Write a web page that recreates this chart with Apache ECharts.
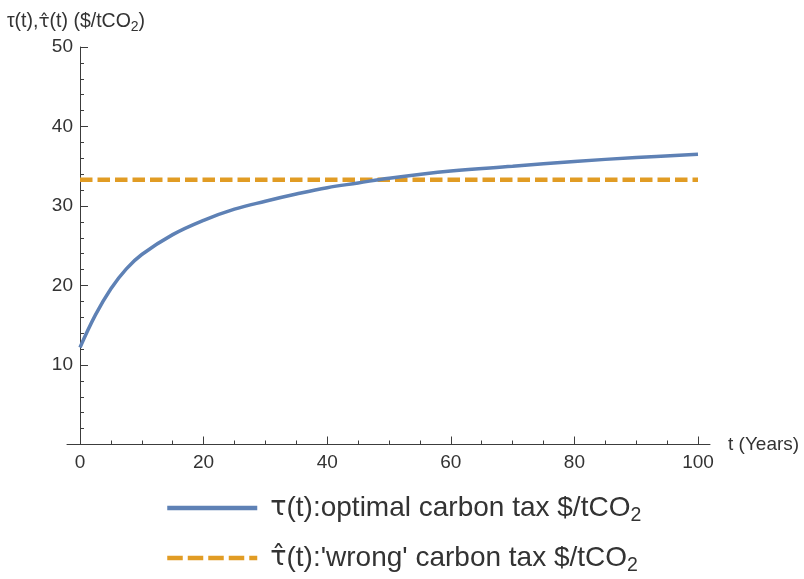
<!DOCTYPE html>
<html>
<head>
<meta charset="utf-8">
<script src="https://cdn.jsdelivr.net/npm/echarts@6/dist/echarts.min.js"></script>
<style>
html,body{margin:0;padding:0;background:#fff;}
#chart{width:804px;height:579px;}
</style>
</head>
<body>
<div id="chart"></div>
<script>
// Data
var years = [0, 2.5, 5, 7.5, 10, 15, 20, 25, 30, 35, 40, 45, 50, 60, 70, 80, 90, 100];
var optimalTax = [12.2, 16.3, 19.6, 22.1, 23.9, 26.4, 28.2, 29.6, 30.6, 31.5, 32.3, 32.9, 33.5, 34.4, 35.0, 35.6, 36.1, 36.5];
var wrongYears = [0, 100];
var wrongTax = [33.3, 33.3];
var xTicks = [0, 20, 40, 60, 80, 100];
var yTicks = [10, 20, 30, 40, 50];

var seriesNames = ["optimal", "wrong"];
var legendLabels = {
  optimal: '{h|τ}{n|(t):optimal carbon tax $/tCO}{s|2}',
  wrong: '{h|τ̂}{n|(t):\'wrong\' carbon tax $/tCO}{s|2}'
};

function pairs(xs, ys) { return xs.map(function (x, i) { return [x, ys[i]]; }); }

var FONT = "'Liberation Sans', Arial, sans-serif";
var HAT_FONT = "'DejaVu Sans', 'Noto Sans', sans-serif";
var AXIS_COLOR = '#3c3c3c';
var TEXT_COLOR = '#333333';

function makeLegend(name, top, lineType) {
  return {
    orient: 'vertical',
    left: 160,
    top: top,
    itemWidth: 90,
    itemHeight: 14,
    data: [name],
    itemStyle: { opacity: 0 },
    lineStyle: { width: 4.5, type: lineType },
    formatter: function (n) { return legendLabels[n]; },
    textStyle: {
      color: TEXT_COLOR,
      fontFamily: FONT,
      fontSize: 28,
      rich: {
        h: { fontSize: 27, fontFamily: HAT_FONT, color: TEXT_COLOR, padding: [0, 0, 0, 8] },
        n: { fontSize: 28, fontFamily: FONT, color: TEXT_COLOR },
        s: { fontSize: 19.5, fontFamily: FONT, color: TEXT_COLOR, padding: [15, 0, 0, 0] }
      }
    }
  };
}

var chart = echarts.init(document.getElementById('chart'), null, { renderer: 'canvas' });
chart.setOption({
  animation: false,
  backgroundColor: '#ffffff',
  textStyle: { fontFamily: FONT },
  grid: [
    { left: 80, right: 106, top: 47, bottom: 134.5, containLabel: false },
    { left: 67, right: 94, top: 47, bottom: 134.5, containLabel: false }
  ],
  legend: [
    makeLegend(seriesNames[0], 489, 'solid'),
    makeLegend(seriesNames[1], 539, [15.5, 5])
  ],
  xAxis: [
    {
      type: 'value', gridIndex: 0, min: 0, max: 100, interval: 20,
      axisLine: { show: false },
      axisTick: { show: true, inside: true, length: 8, lineStyle: { color: AXIS_COLOR, width: 1 } },
      minorTick: { show: true, splitNumber: 4, length: 4, lineStyle: { color: AXIS_COLOR, width: 1 } },
      axisLabel: { show: true, margin: 9, color: TEXT_COLOR, fontSize: 19, fontFamily: FONT },
      splitLine: { show: false }
    },
    {
      type: 'value', gridIndex: 1, min: 0, max: 1,
      axisLine: { show: true, onZero: false, lineStyle: { color: AXIS_COLOR, width: 1 } },
      axisTick: { show: false },
      axisLabel: { show: false },
      splitLine: { show: false },
      name: 't (Years)',
      nameLocation: 'end',
      nameGap: 18,
      nameTextStyle: { color: TEXT_COLOR, fontSize: 19, fontFamily: FONT }
    }
  ],
  yAxis: [
    {
      type: 'value', gridIndex: 0, min: 0, max: 50, interval: 10,
      axisLine: { show: true, onZero: true, lineStyle: { color: AXIS_COLOR, width: 1 } },
      axisTick: { show: true, inside: true, length: 8, lineStyle: { color: AXIS_COLOR, width: 1 } },
      minorTick: { show: true, splitNumber: 5, length: 4, lineStyle: { color: AXIS_COLOR, width: 1 } },
      axisLabel: {
        show: true, margin: 7, color: TEXT_COLOR, fontSize: 19, fontFamily: FONT,
        formatter: function (v) { return yTicks.indexOf(v) >= 0 ? String(v) : ''; }
      },
      splitLine: { show: false },
      name: '{n|τ(t),}{h|τ̂}{n|(t) ($/tCO}{s|2}{n|)}',
      nameLocation: 'end',
      nameGap: 13,
      nameTextStyle: {
        color: TEXT_COLOR, fontSize: 19.5, fontFamily: FONT, padding: [0, 8, 0, 0],
        rich: {
          n: { fontSize: 19.5, fontFamily: FONT, color: TEXT_COLOR },
          h: { fontSize: 18.5, fontFamily: HAT_FONT, color: TEXT_COLOR },
          s: { fontSize: 14, fontFamily: FONT, color: TEXT_COLOR, padding: [10, 0, 0, 0] }
        }
      }
    },
    { type: 'value', gridIndex: 1, min: 0, max: 1, show: false }
  ],
  series: [
    {
      name: seriesNames[0],
      type: 'line',
      xAxisIndex: 0, yAxisIndex: 0,
      data: pairs(years, optimalTax),
      smooth: 0.4,
      symbol: 'none',
      lineStyle: { color: '#5E81B5', width: 3.5 },
      itemStyle: { color: '#5E81B5' },
      z: 3
    },
    {
      name: seriesNames[1],
      type: 'line',
      xAxisIndex: 0, yAxisIndex: 0,
      data: pairs(wrongYears, wrongTax),
      symbol: 'none',
      lineStyle: { color: '#E19C24', width: 4.5, type: [12.5, 5] },
      itemStyle: { color: '#E19C24' },
      z: 2
    }
  ]
});
</script>
</body>
</html>
